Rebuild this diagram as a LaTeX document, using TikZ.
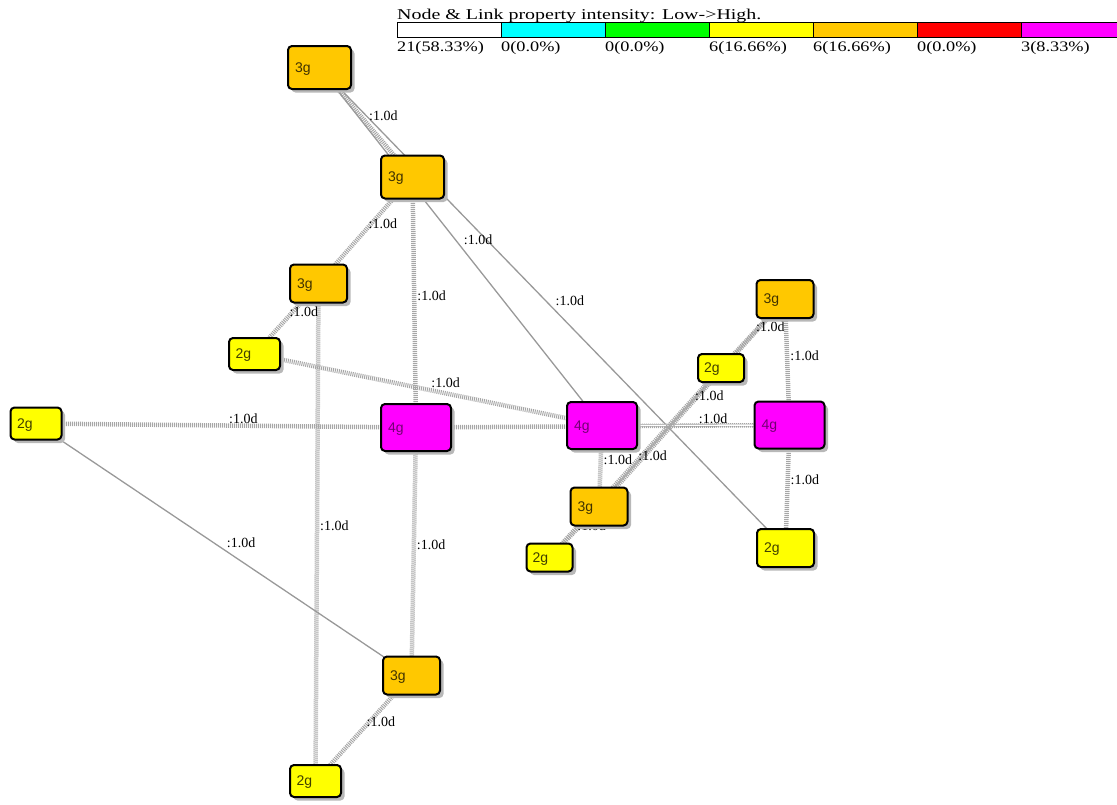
\documentclass[tikz,border=0pt]{standalone}
\usepackage{fontspec}
\setmainfont{Liberation Serif}
\newfontfamily\gfont{Liberation Sans}
\usetikzlibrary{shadows,backgrounds,calc}
\definecolor{gorange}{RGB}{255,200,0}
\definecolor{gyellow}{RGB}{255,255,0}
\definecolor{gmagenta}{RGB}{255,0,255}
\definecolor{gcyan}{RGB}{0,255,255}
\definecolor{ggreen}{RGB}{0,255,0}
\definecolor{gred}{RGB}{255,0,0}
\tikzset{
  gnode/.style={rectangle, rounded corners=4pt, draw=black, line width=2pt, align=left,
    inner xsep=6pt, inner ysep=0pt, text depth=0pt, font=\gfont\fontsize{14}{15}\selectfont,
    drop shadow={shadow xshift=3.5pt, shadow yshift=-3.5pt, fill=black!28, opacity=1}},
  g3/.style={gnode, fill=gorange, text=gorange!25!black},
  g2/.style={gnode, fill=gyellow, text=gyellow!25!black},
  g4/.style={gnode, fill=gmagenta, text=gmagenta!45!black},
  sza/.style={minimum width=63pt, minimum height=43pt, text width=49pt},
  szb/.style={minimum width=70pt, minimum height=47pt, text width=56pt},
  szc/.style={minimum width=57pt, minimum height=38pt, text width=43pt},
  szd/.style={minimum width=51pt, minimum height=32pt, text width=38pt},
  sze/.style={minimum width=44pt, minimum height=28pt, text width=34pt},
  band/.style={draw=gray!70, line width=4.5pt, dash pattern=on 1pt off 1pt},
  slink/.style={draw=gray!80, line width=1.3pt},
  dlink/.style={draw=gray!80, double=white, double distance=1.4pt, line width=0.6pt},
  lab/.style={anchor=base west, inner sep=0pt, xshift=3pt, yshift=2pt, font=\fontsize{14}{15}\selectfont},
  cell/.style={rectangle, draw=black, line width=1.2pt, anchor=west, minimum width=104pt, minimum height=15pt, inner sep=0pt},
  num/.style={anchor=north west, inner sep=0pt, yshift=-3pt, font=\fontsize{14.5}{15}\selectfont}
}
\begin{document}
\begin{tikzpicture}[x=1pt, y=-1pt]
  \useasboundingbox (0,0) rectangle (1117,804);
  % legend
  \node[anchor=base west, inner sep=0pt, font=\fontsize{15}{16}\selectfont] (title) at (397,19.5)
    {\scalebox{1.33}[1]{Node \& Link property intensity: Low->High.}};
  \foreach \c/\t [count=\k from 0] in {white/21(58.33\%), gcyan/0(0.0\%), ggreen/0(0.0\%),
      gyellow/6(16.66\%), gorange/6(16.66\%), gred/0(0.0\%), gmagenta/3(8.33\%)} {
    \node[cell, fill=\c] (cell\k) at (397+104*\k, 30) {};
    \node[num] (num\k) at (cell\k.south west) {\scalebox{1.26}[1]{\t}};
  }
  % nodes
  \node[g3, sza] (A) at (319.5,67.5) {3g};
  \node[g3, sza] (B) at (412.5,177) {3g};
  \node[g3, szc] (C) at (318.5,283.5) {3g};
  \node[g2, szd] (D) at (254.5,354) {2g};
  \node[g2, szd] (E) at (36,423.5) {2g};
  \node[g4, szb] (F) at (416,427.5) {4g};
  \node[g4, szb] (G) at (602,425.5) {4g};
  \node[g4, szb] (H) at (789.5,425) {4g};
  \node[g3, szc] (I) at (785,299) {3g};
  \node[g2, sze] (J) at (721,368) {2g};
  \node[g3, szc] (K) at (599,506.5) {3g};
  \node[g2, sze] (L) at (549.5,557.5) {2g};
  \node[g2, szc] (M) at (785.5,548) {2g};
  \node[g3, szc] (N) at (411.5,675.5) {3g};
  \node[g2, szd] (O) at (315.5,781) {2g};
  % links
  \def\linklist{A/B/band, A/G/slink, A/M/slink, B/C/band, B/F/band, C/D/band, C/O/band,
    D/G/band, E/F/band, E/N/slink, F/H/band, F/N/band, G/H/dlink, G/K/band, K/L/band,
    K/I/band, L/J/band, J/I/band, I/H/band, H/M/band, N/O/band}
  \begin{scope}[on background layer]
    \foreach \a/\b/\s in \linklist
      \draw[\s] (\a.center) -- (\b.center);
    \foreach \a/\b/\s [count=\i] in \linklist
      \node[lab] (lab\i) at ($(\a.center)!0.5!(\b.center)$) {:1.0d};
  \end{scope}
\end{tikzpicture}
\end{document}
